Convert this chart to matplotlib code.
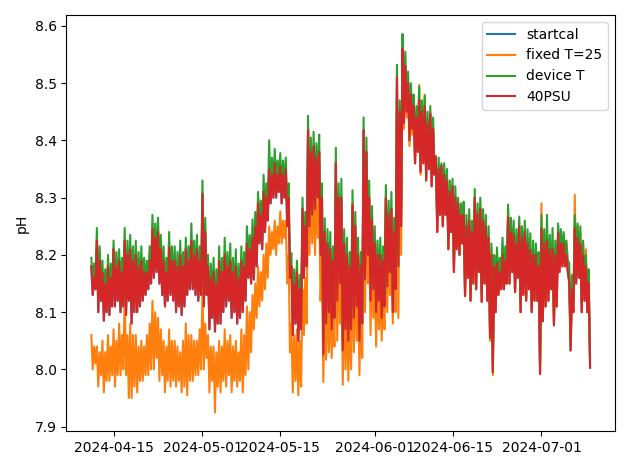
"""pH time series with the different calibration variants."""
import matplotlib
matplotlib.use("Agg")
import matplotlib.pyplot as plt
import pandas as pd

# four readings per day (6 h apart), 2024-04-11 .. 2024-07-09
START = "2024-04-11 00:00"

ph_40psu = [
    8.18, 8.13, 8.16, 8.14, 8.225, 8.10, 8.19, 8.12,
    8.17, 8.085, 8.15, 8.10, 8.18, 8.095, 8.16, 8.11,
    8.21, 8.11, 8.18, 8.12, 8.19, 8.10, 8.17, 8.11,
    8.225, 8.095, 8.20, 8.12, 8.21, 8.08, 8.19, 8.10,
    8.20, 8.10, 8.18, 8.11, 8.19, 8.12, 8.17, 8.13,
    8.17, 8.14, 8.19, 8.15, 8.245, 8.16, 8.23, 8.17,
    8.24, 8.15, 8.21, 8.13, 8.19, 8.11, 8.17, 8.12,
    8.213, 8.13, 8.19, 8.12, 8.19, 8.10, 8.18, 8.11,
    8.20, 8.095, 8.18, 8.11, 8.21, 8.13, 8.19, 8.14,
    8.225, 8.14, 8.20, 8.13, 8.21, 8.12, 8.19, 8.13,
    8.307, 8.11, 8.24, 8.13, 8.18, 8.07, 8.16, 8.09,
    8.17, 8.066, 8.15, 8.08, 8.19, 8.08, 8.17, 8.10,
    8.20, 8.11, 8.18, 8.12, 8.19, 8.09, 8.17, 8.10,
    8.18, 8.08, 8.16, 8.09, 8.19, 8.10, 8.18, 8.12,
    8.22, 8.16, 8.21, 8.15, 8.23, 8.157, 8.25, 8.18,
    8.29, 8.22, 8.27, 8.21, 8.31, 8.24, 8.30, 8.26,
    8.35, 8.29, 8.34, 8.30, 8.36, 8.30, 8.34, 8.31,
    8.355, 8.29, 8.34, 8.30, 8.35, 8.25, 8.30, 8.16,
    8.18, 8.06, 8.15, 8.08, 8.17, 8.05, 8.14, 8.07,
    8.28, 8.16, 8.25, 8.18, 8.418, 8.25, 8.38, 8.27,
    8.39, 8.28, 8.37, 8.30, 8.38, 8.20, 8.30, 8.026,
    8.24, 8.08, 8.22, 8.10, 8.21, 8.07, 8.19, 8.09,
    8.36, 8.12, 8.30, 8.15, 8.30, 8.033, 8.22, 8.07,
    8.20, 8.05, 8.18, 8.07, 8.288, 8.09, 8.25, 8.11,
    8.20, 8.05, 8.18, 8.08, 8.418, 8.157, 8.38, 8.20,
    8.30, 8.12, 8.26, 8.14, 8.22, 8.10, 8.20, 8.12,
    8.20, 8.09, 8.19, 8.11, 8.30, 8.145, 8.27, 8.17,
    8.28, 8.10, 8.24, 8.14, 8.51, 8.18, 8.45, 8.25,
    8.56, 8.43, 8.53, 8.45, 8.50, 8.40, 8.48, 8.42,
    8.46, 8.36, 8.44, 8.38, 8.47, 8.345, 8.45, 8.36,
    8.46, 8.33, 8.43, 8.35, 8.447, 8.32, 8.42, 8.34,
    8.37, 8.24, 8.35, 8.27, 8.356, 8.25, 8.34, 8.27,
    8.33, 8.21, 8.31, 8.24, 8.32, 8.17, 8.30, 8.21,
    8.29, 8.20, 8.27, 8.22, 8.27, 8.128, 8.25, 8.16,
    8.26, 8.12, 8.24, 8.15, 8.30, 8.14, 8.27, 8.17,
    8.28, 8.118, 8.26, 8.15, 8.25, 8.12, 8.23, 8.055,
    8.20, 7.995, 8.18, 8.10, 8.186, 8.13, 8.17, 8.14,
    8.20, 8.14, 8.19, 8.15, 8.265, 8.15, 8.24, 8.17,
    8.237, 8.135, 8.22, 8.16, 8.25, 8.10, 8.23, 8.13,
    8.24, 8.12, 8.22, 8.14, 8.208, 8.10, 8.20, 8.12,
    8.20, 8.12, 8.18, 7.992, 8.245, 8.084, 8.22, 8.11,
    8.225, 8.12, 8.21, 8.14, 8.21, 8.077, 8.20, 8.11,
    8.239, 8.17, 8.22, 8.18, 8.22, 8.18, 8.20, 8.17,
    8.152, 8.033, 8.14, 8.10, 8.247, 8.15, 8.23, 8.16,
    8.22, 8.10, 8.20, 8.12, 8.18, 8.10, 8.15, 8.003,
]

ph_device_t = [
    8.195, 8.15, 8.185, 8.16, 8.247, 8.12, 8.215, 8.14,
    8.19, 8.105, 8.175, 8.12, 8.20, 8.115, 8.185, 8.13,
    8.225, 8.13, 8.205, 8.14, 8.21, 8.12, 8.195, 8.13,
    8.247, 8.115, 8.225, 8.14, 8.235, 8.10, 8.215, 8.12,
    8.225, 8.12, 8.205, 8.13, 8.215, 8.14, 8.195, 8.15,
    8.19, 8.16, 8.215, 8.17, 8.27, 8.18, 8.255, 8.19,
    8.265, 8.17, 8.235, 8.15, 8.215, 8.13, 8.195, 8.14,
    8.24, 8.15, 8.215, 8.14, 8.215, 8.12, 8.205, 8.13,
    8.225, 8.115, 8.205, 8.13, 8.23, 8.15, 8.215, 8.16,
    8.255, 8.16, 8.225, 8.15, 8.235, 8.14, 8.215, 8.15,
    8.33, 8.13, 8.265, 8.15, 8.20, 8.09, 8.185, 8.11,
    8.195, 8.085, 8.175, 8.10, 8.215, 8.10, 8.195, 8.12,
    8.23, 8.13, 8.205, 8.14, 8.22, 8.11, 8.195, 8.12,
    8.21, 8.10, 8.185, 8.11, 8.215, 8.12, 8.205, 8.14,
    8.25, 8.18, 8.235, 8.17, 8.262, 8.18, 8.275, 8.20,
    8.31, 8.24, 8.295, 8.23, 8.34, 8.26, 8.325, 8.28,
    8.40, 8.31, 8.37, 8.32, 8.385, 8.32, 8.365, 8.33,
    8.378, 8.31, 8.365, 8.32, 8.37, 8.27, 8.325, 8.18,
    8.203, 8.08, 8.175, 8.10, 8.19, 8.07, 8.165, 8.09,
    8.30, 8.18, 8.275, 8.20, 8.443, 8.27, 8.405, 8.29,
    8.415, 8.30, 8.395, 8.32, 8.41, 8.22, 8.325, 8.045,
    8.264, 8.10, 8.245, 8.12, 8.24, 8.09, 8.215, 8.11,
    8.387, 8.14, 8.325, 8.17, 8.333, 8.05, 8.245, 8.09,
    8.23, 8.07, 8.205, 8.09, 8.313, 8.11, 8.275, 8.13,
    8.23, 8.07, 8.205, 8.10, 8.44, 8.175, 8.405, 8.22,
    8.33, 8.14, 8.285, 8.16, 8.25, 8.12, 8.225, 8.14,
    8.23, 8.11, 8.215, 8.13, 8.322, 8.165, 8.295, 8.19,
    8.31, 8.12, 8.265, 8.16, 8.532, 8.20, 8.47, 8.27,
    8.586, 8.45, 8.555, 8.47, 8.52, 8.42, 8.50, 8.44,
    8.48, 8.38, 8.46, 8.40, 8.494, 8.365, 8.47, 8.38,
    8.478, 8.35, 8.45, 8.37, 8.46, 8.34, 8.44, 8.36,
    8.373, 8.26, 8.37, 8.29, 8.36, 8.27, 8.36, 8.29,
    8.35, 8.23, 8.33, 8.26, 8.333, 8.19, 8.32, 8.23,
    8.30, 8.22, 8.29, 8.24, 8.293, 8.145, 8.27, 8.18,
    8.28, 8.14, 8.26, 8.17, 8.315, 8.16, 8.29, 8.19,
    8.30, 8.135, 8.28, 8.17, 8.27, 8.14, 8.25, 8.07,
    8.22, 8.01, 8.20, 8.12, 8.213, 8.15, 8.195, 8.16,
    8.23, 8.16, 8.215, 8.17, 8.288, 8.17, 8.265, 8.19,
    8.26, 8.155, 8.245, 8.18, 8.267, 8.12, 8.25, 8.15,
    8.26, 8.14, 8.245, 8.16, 8.238, 8.12, 8.225, 8.14,
    8.22, 8.14, 8.205, 8.01, 8.27, 8.10, 8.245, 8.13,
    8.27, 8.14, 8.235, 8.16, 8.247, 8.095, 8.225, 8.13,
    8.255, 8.19, 8.245, 8.20, 8.24, 8.20, 8.225, 8.19,
    8.186, 8.05, 8.165, 8.12, 8.27, 8.17, 8.255, 8.18,
    8.25, 8.12, 8.225, 8.14, 8.20, 8.12, 8.175, 8.02,
]

ph_fixed_t25 = [
    8.06, 8.00, 8.04, 8.01, 8.04, 7.97, 8.03, 7.99,
    8.05, 7.96, 8.03, 7.98, 8.06, 7.98, 8.04, 7.99,
    8.07, 7.97, 8.05, 7.99, 8.08, 7.99, 8.06, 8.00,
    8.13, 7.99, 8.06, 7.95, 8.08, 7.95, 8.06, 7.97,
    8.06, 7.96, 8.04, 7.98, 8.05, 7.98, 8.04, 7.99,
    8.06, 7.99, 8.08, 8.00, 8.12, 8.00, 8.10, 8.02,
    8.09, 7.98, 8.07, 7.99, 8.05, 7.96, 8.04, 7.98,
    8.07, 7.97, 8.05, 7.98, 8.05, 7.97, 8.04, 7.98,
    8.03, 7.96, 8.05, 7.97, 8.08, 7.955, 8.06, 7.98,
    8.06, 7.98, 8.05, 7.99, 8.05, 7.99, 8.07, 8.00,
    8.145, 8.00, 8.08, 8.02, 8.06, 7.96, 8.04, 7.98,
    8.04, 7.925, 8.03, 7.97, 8.05, 7.96, 8.04, 7.98,
    8.07, 7.97, 8.05, 7.99, 8.06, 7.96, 8.04, 7.98,
    8.05, 7.97, 8.03, 7.98, 8.07, 7.96, 8.06, 7.99,
    8.11, 8.00, 8.10, 8.03, 8.13, 8.07, 8.15, 8.09,
    8.18, 8.11, 8.17, 8.12, 8.20, 8.14, 8.22, 8.16,
    8.25, 8.20, 8.24, 8.21, 8.26, 8.20, 8.25, 8.22,
    8.276, 8.22, 8.26, 8.23, 8.26, 8.15, 8.20, 8.03,
    8.08, 7.96, 8.06, 7.98, 8.07, 7.955, 8.05, 7.97,
    8.14, 8.06, 8.16, 8.08, 8.35, 8.20, 8.32, 8.22,
    8.33, 8.20, 8.31, 8.23, 8.30, 8.12, 8.20, 7.978,
    8.15, 8.017, 8.13, 8.03, 8.13, 8.02, 8.11, 8.04,
    8.28, 8.05, 8.22, 8.08, 8.22, 7.973, 8.15, 8.00,
    8.14, 7.98, 8.12, 8.00, 8.22, 8.03, 8.19, 8.05,
    8.15, 7.99, 8.13, 8.02, 8.36, 8.10, 8.33, 8.15,
    8.25, 8.06, 8.22, 8.09, 8.17, 8.04, 8.16, 8.07,
    8.15, 8.05, 8.16, 8.07, 8.26, 8.10, 8.24, 8.13,
    8.25, 8.08, 8.21, 8.10, 8.48, 8.09, 8.42, 8.20,
    8.54, 8.42, 8.52, 8.44, 8.49, 8.39, 8.47, 8.41,
    8.46, 8.36, 8.44, 8.38, 8.497, 8.34, 8.45, 8.36,
    8.48, 8.33, 8.44, 8.35, 8.44, 8.32, 8.42, 8.34,
    8.37, 8.24, 8.35, 8.27, 8.35, 8.25, 8.34, 8.27,
    8.33, 8.21, 8.31, 8.24, 8.32, 8.17, 8.30, 8.21,
    8.29, 8.20, 8.27, 8.22, 8.27, 8.128, 8.25, 8.16,
    8.26, 8.12, 8.24, 8.15, 8.30, 8.14, 8.28, 8.17,
    8.29, 8.118, 8.27, 8.15, 8.25, 8.12, 8.23, 8.05,
    8.21, 7.99, 8.19, 8.10, 8.19, 8.13, 8.18, 8.14,
    8.21, 8.14, 8.20, 8.15, 8.275, 8.15, 8.25, 8.17,
    8.24, 8.135, 8.23, 8.16, 8.26, 8.10, 8.24, 8.13,
    8.245, 8.12, 8.23, 8.14, 8.21, 8.10, 8.20, 8.12,
    8.21, 8.12, 8.19, 7.992, 8.29, 8.09, 8.24, 8.11,
    8.23, 8.12, 8.22, 8.14, 8.22, 8.08, 8.21, 8.11,
    8.25, 8.17, 8.23, 8.18, 8.23, 8.18, 8.21, 8.17,
    8.17, 8.04, 8.15, 8.10, 8.305, 8.16, 8.25, 8.17,
    8.24, 8.10, 8.22, 8.12, 8.21, 8.10, 8.16, 8.01,
]

# startcal sits right under the 40PSU curve
ph_startcal = ph_40psu


def main():
    """Plot the four pH variants."""
    time_v = pd.date_range(START, periods=len(ph_40psu), freq="6h")

    fig, ax = plt.subplots(figsize=(6.3, 4.7), dpi=100)
    ax.plot(time_v, ph_startcal, label="startcal")
    ax.plot(time_v, ph_fixed_t25, label="fixed T=25")
    ax.plot(time_v, ph_device_t, label="device T")
    ax.plot(time_v, ph_40psu, label="40PSU")
    ax.set_ylabel("pH")
    ax.legend(loc="upper right")
    fig.tight_layout()
    fig.savefig("out.png", dpi=100)


if __name__ == "__main__":
    main()
